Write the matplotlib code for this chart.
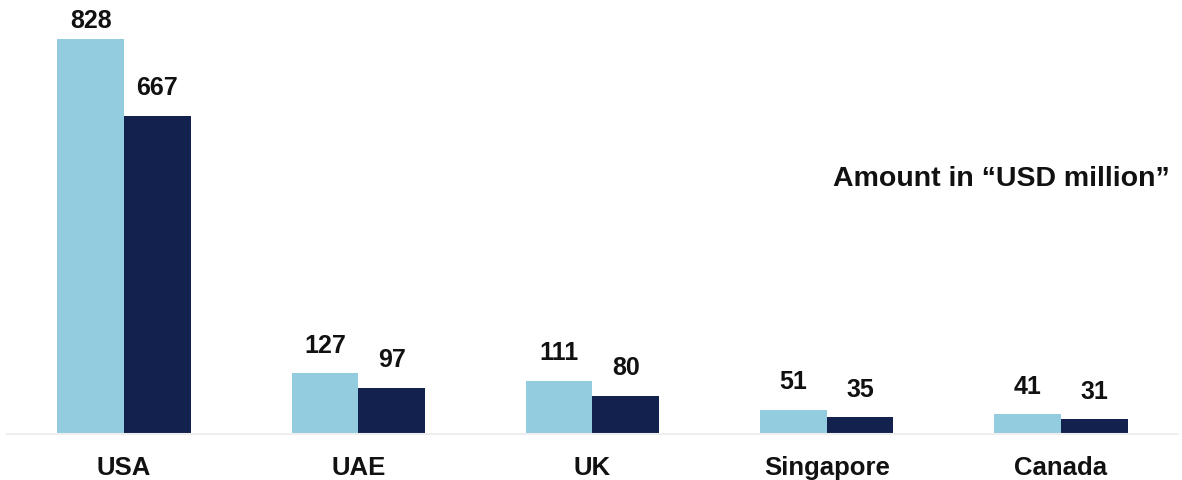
import matplotlib
matplotlib.use("Agg")
import matplotlib.pyplot as plt
import numpy as np

countries = ["USA", "UAE", "UK", "Singapore", "Canada"]
series_a = [828, 127, 111, 51, 41]
series_b = [667, 97, 80, 35, 31]

light = "#92CCDE"
dark = "#13214F"

plt.rcParams["font.family"] = ["Liberation Sans", "DejaVu Sans"]

fig = plt.figure(figsize=(11.82, 4.81), dpi=100)
ax = fig.add_axes([0.0059, 0.0956, 0.9907, 0.892])

x = np.arange(len(countries))
w = 0.285
b1 = ax.bar(x - w / 2, series_a, width=w, color=light)
b2 = ax.bar(x + w / 2, series_b, width=w, color=dark)

for bars in (b1, b2):
    for r in bars:
        h = r.get_height()
        off = 5 if h > 800 else 12  # tallest label sits tight under the top edge
        ax.annotate(f"{int(h)}",
                    (r.get_x() + r.get_width() / 2, h),
                    xytext=(0, off), textcoords="offset points",
                    ha="center", va="bottom", fontsize=18, fontweight="bold",
                    color="#111111")

ax.set_xlim(-0.5, len(countries) - 0.5)
ax.set_ylim(0, 900)
ax.set_xticks(x)
ax.set_xticklabels(countries, fontsize=18.5, fontweight="bold", color="#111111")
ax.tick_params(axis="x", length=0, pad=15)
ax.set_yticks([])
for s in ("top", "right", "left"):
    ax.spines[s].set_visible(False)
ax.spines["bottom"].set_color("#EEEEEE")
ax.spines["bottom"].set_linewidth(1.5)

fig.text(0.99, 0.628, "Amount in \u201cUSD million\u201d", ha="right", va="center",
         fontsize=20.5, fontweight="bold", color="#111111")

fig.savefig("out.png", dpi=100)
